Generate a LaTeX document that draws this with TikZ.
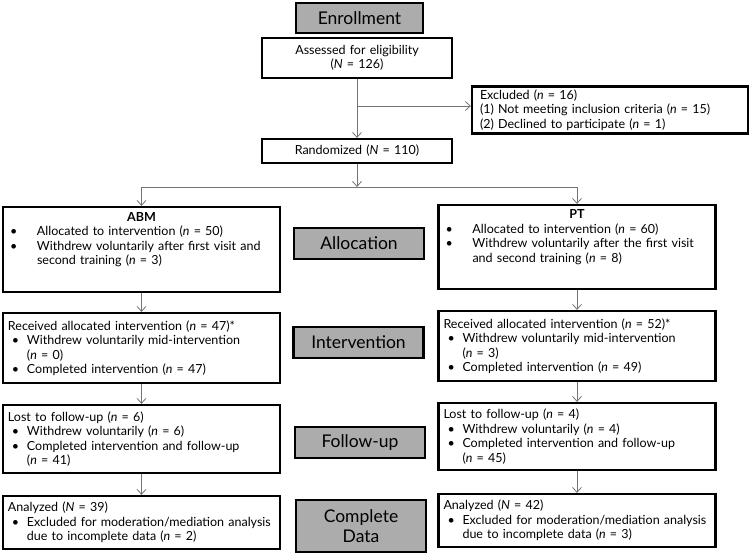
\documentclass[tikz,border=0pt]{standalone}
\usepackage{fontspec}
\setmainfont{Lato}
\usetikzlibrary{arrows.meta}

% bullet line: bullet offset, text indent, text
\newcommand{\bitem}[3]{\par\hangindent=#2\hangafter=0\noindent\llap{\makebox[#2][l]{\hspace{#1}\textbullet}}#3\par}
\newcommand{\nn}{\textit{n}}
\newcommand{\NN}{\textit{N}}

\begin{document}
\begin{tikzpicture}[x=1pt, y=-1pt, >={Straight Barb[length=5pt, width=9pt]},
    box/.style={draw, line width=2.2pt, text width=267pt, inner xsep=5pt, inner ysep=3pt, align=left, font=\fontsize{12.5}{14.5}\selectfont},
    stage/.style={draw, line width=2.2pt, fill=gray!65, minimum width=130pt, font=\fontsize{17.5}{20}\selectfont, align=center},
    flow/.style={->, draw=black!55, line width=0.8pt},
    link/.style={draw=black!55, line width=0.8pt}]
    \useasboundingbox (0,0) rectangle (750,556);

    % Enrollment
    \node[stage, minimum width=127pt, minimum height=30pt] (enroll) at (359.5,18) {Enrollment};
    \node[box, text width=180pt, align=center, minimum height=40pt] (assess) at (357,58) {Assessed for eligibility\\(\NN{} = 126)};
    \node[box, text width=260pt, inner xsep=8pt, minimum height=44pt] (exclu) at (610,110) {Excluded (\nn{} = 16)\\(1) Not meeting inclusion criteria (\nn{} = 15)\\(2) Declined to participate (\nn{} = 1)};
    \node[box, text width=180pt, align=center, minimum height=24pt] (random) at (357,151) {Randomized (\NN{} = 110)};

    % Stage labels
    \node[stage, minimum height=31pt] (alloc) at (359,243.5) {Allocation};
    \node[stage, minimum height=31pt] (interv) at (358.5,342.5) {Intervention};
    \node[stage, minimum height=31pt] (follow) at (360,442.5) {Follow-up};
    \node[stage, minimum height=52pt] (complete) at (361,526) {Complete\\Data};

    % ABM arm
    \node[box, minimum height=85pt] (abm) at (141.5,249.5) {{\centering\textbf{ABM}\par}\bitem{2pt}{29pt}{Allocated to intervention (\nn{} = 50)}\bitem{2pt}{29pt}{Withdrew voluntarily after first visit and\newline second training (\nn{} = 3)\rule[-22pt]{0pt}{0pt}}};
    \node[box, minimum height=70pt] (abmint) at (141.5,348) {Received allocated intervention (\nn{} = 47)*\bitem{4pt}{19pt}{Withdrew voluntarily mid-intervention\newline(\nn{} = 0)}\bitem{4pt}{19pt}{Completed intervention (\nn{} = 47)}};
    \node[box, minimum height=68pt] (abmfu) at (141.5,439) {Lost to follow-up (\nn{} = 6)\bitem{4pt}{19pt}{Withdrew voluntarily (\nn{} = 6)}\bitem{4pt}{19pt}{Completed intervention and follow-up\newline(\nn{} = 41)}};
    \node[box, minimum height=53pt] (abmcd) at (141.5,522.5) {Analyzed (\NN{} = 39)\bitem{4pt}{19pt}{Excluded for moderation/mediation analysis\newline due to incomplete data (\nn{} = 2)}};

    % PT arm
    \node[box, minimum height=84pt] (pt) at (577,247) {{\centering\textbf{PT}\par}\bitem{2pt}{29pt}{Allocated to intervention (\nn{} = 60)}\bitem{2pt}{29pt}{Withdrew voluntarily after the first visit\newline and second training (\nn{} = 8)\rule[-22pt]{0pt}{0pt}}};
    \node[box, minimum height=70pt] (ptint) at (577,346) {Received allocated intervention (\nn{} = 52)*\bitem{4pt}{19pt}{Withdrew voluntarily mid-intervention\newline(\nn{} = 3)}\bitem{4pt}{19pt}{Completed intervention (\nn{} = 49)}};
    \node[box, minimum height=67pt] (ptfu) at (577,436.5) {Lost to follow-up (\nn{} = 4)\bitem{4pt}{19pt}{Withdrew voluntarily (\nn{} = 4)}\bitem{4pt}{19pt}{Completed intervention and follow-up\newline(\nn{} = 45)}};
    \node[box, minimum height=53pt] (ptcd) at (577,520.5) {Analyzed (\NN{} = 42)\bitem{4pt}{19pt}{Excluded for moderation/mediation analysis\newline due to incomplete data (\nn{} = 3)}};

    % Connectors
    \draw[flow] (assess) -- (random);
    \draw[flow] (assess.south |- exclu.west) ++(0,-4) -- ([yshift=4pt]exclu.west);
    \coordinate (split) at (357,187);
    \draw[flow] (random) -- (split);
    \draw[link] (abm.north |- split) -- (pt.north |- split);
    \draw[flow] (abm.north |- split) -- (abm);
    \draw[flow] (pt.north |- split) -- (pt);
    \draw[flow] (abm) -- (abmint);
    \draw[flow] (abmint) -- (abmfu);
    \draw[flow] (abmfu) -- (abmcd);
    \draw[flow] (pt) -- (ptint);
    \draw[flow] (ptint) -- (ptfu);
    \draw[flow] (ptfu) -- (ptcd);
\end{tikzpicture}
\end{document}
